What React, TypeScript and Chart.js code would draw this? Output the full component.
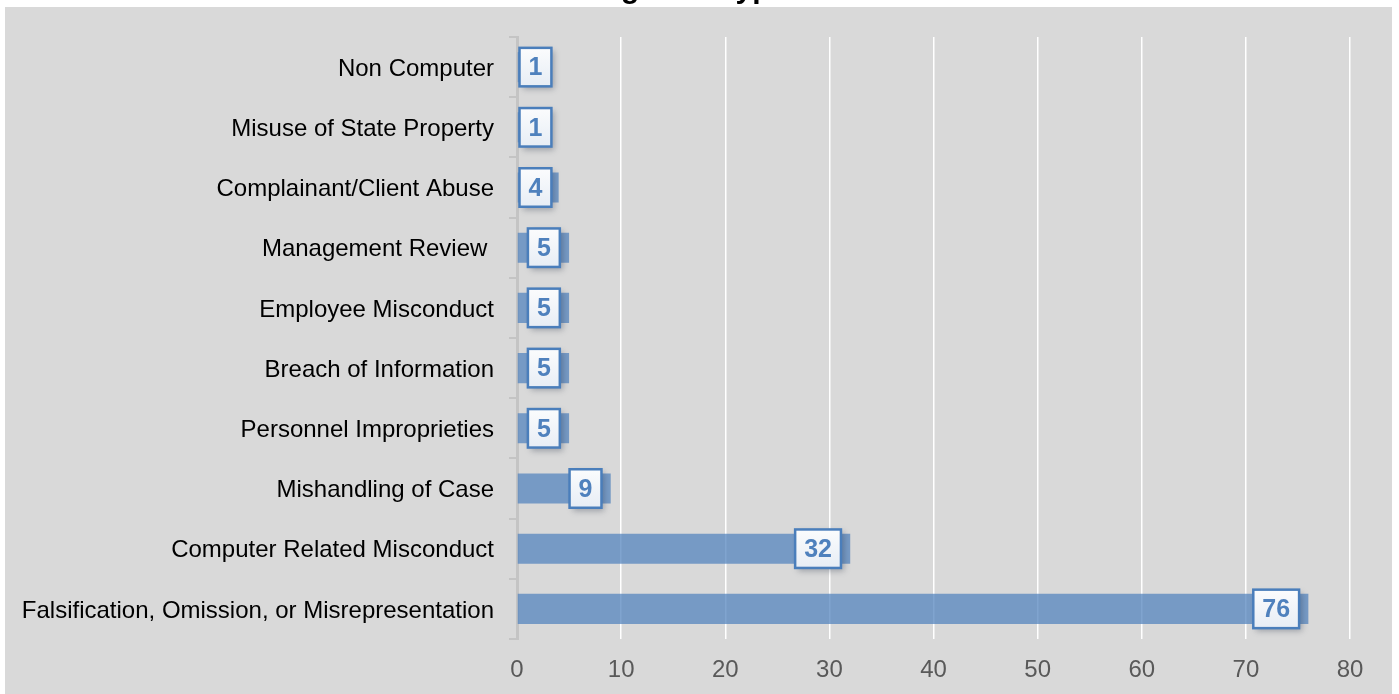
import React, { useEffect, useRef } from 'react';
import { Chart, registerables } from 'chart.js';

Chart.register(...registerables);

const titleText = 'Allegation Types';

const categories = [
  'Non Computer',
  'Misuse of State Property',
  'Complainant/Client Abuse',
  'Management Review ',
  'Employee Misconduct',
  'Breach of Information',
  'Personnel Improprieties',
  'Mishandling of Case',
  'Computer Related Misconduct',
  'Falsification, Omission, or Misrepresentation',
];

const counts = [1, 1, 4, 5, 5, 5, 5, 9, 32, 76];

const xMin = 0;
const xMax = 80;
const xStep = 10;

const FONT = "'Liberation Sans', Arial, sans-serif";

const boxLabelPlugin = {
  id: 'boxLabels',
  afterDatasetsDraw(chart: any) {
    const { ctx, chartArea } = chart;
    const meta = chart.getDatasetMeta(0);
    const data = chart.data.datasets[0].data;
    ctx.save();
    ctx.font = `bold 25px ${FONT}`;
    meta.data.forEach((bar: any, i: number) => {
      const text = String(data[i]);
      const tw = ctx.measureText(text).width;
      const w = tw + 18;
      const h = 38.5;
      let left = bar.x - 9.25 - w;
      if (left < chartArea.left + 2.5) left = chartArea.left + 2.5;
      const top = bar.y - h / 2;
      ctx.save();
      ctx.shadowColor = 'rgba(40,50,70,0.35)';
      ctx.shadowBlur = 6;
      ctx.shadowOffsetX = 3;
      ctx.shadowOffsetY = 3;
      const g = ctx.createLinearGradient(0, top, 0, top + h);
      g.addColorStop(0, '#fbfcfd');
      g.addColorStop(1, '#e7edf5');
      ctx.fillStyle = g;
      ctx.fillRect(left, top, w, h);
      ctx.restore();
      ctx.strokeStyle = '#4a7ebb';
      ctx.lineWidth = 2.5;
      ctx.strokeRect(left, top, w, h);
      ctx.fillStyle = '#4f81bd';
      ctx.textAlign = 'center';
      ctx.textBaseline = 'middle';
      ctx.fillText(text, left + w / 2, bar.y + 1.5);
    });
    ctx.restore();
  },
};

export default function App() {
  const ref = useRef<HTMLCanvasElement>(null);

  useEffect(() => {
    if (!ref.current) return;
    const chart = new Chart(ref.current, {
      type: 'bar',
      data: {
        labels: categories,
        datasets: [
          {
            data: counts,
            backgroundColor: 'rgba(79,129,189,0.72)',
            borderWidth: 0,
            barPercentage: 0.5,
            categoryPercentage: 1,
          },
        ],
      },
      options: {
        indexAxis: 'y',
        animation: false,
        responsive: true,
        maintainAspectRatio: false,
        layout: { padding: { top: 30, right: 42, left: 0, bottom: 0 } },
        plugins: {
          legend: { display: false },
          title: { display: false },
          tooltip: { enabled: false },
        },
        scales: {
          y: {
            type: 'category',
            afterFit: (s: any) => {
              s.width = 512;
            },
            ticks: {
              color: '#000000',
              font: { family: FONT, size: 24 },
              padding: 15,
              labelOffset: 2,
              autoSkip: false,
            },
            grid: {
              drawOnChartArea: false,
              drawTicks: true,
              tickLength: 8,
              color: '#c4c4c4',
              lineWidth: 2,
            },
            border: { display: true, color: '#c4c4c4', width: 3 },
          },
          x: {
            min: xMin,
            max: xMax,
            afterFit: (s: any) => {
              s.height = 55;
            },
            ticks: {
              stepSize: xStep,
              color: '#595959',
              font: { family: FONT, size: 24 },
              padding: 17,
            },
            grid: {
              drawTicks: false,
              color: (c: any) => (c.tick && c.tick.value === 0 ? 'rgba(0,0,0,0)' : '#ffffff'),
              lineWidth: 1.5,
            },
            border: { display: false },
          },
        },
      } as any,
      plugins: [boxLabelPlugin],
    });
    return () => chart.destroy();
  }, []);

  return (
    <>
      <div
        style={{
          position: 'fixed',
          left: 0,
          top: -27,
          width: 1370,
          textAlign: 'center',
          font: `bold 30px ${FONT}`,
          lineHeight: '30px',
          color: '#000',
          whiteSpace: 'nowrap',
        }}
      >
        {titleText}
      </div>
      <div
        style={{
          position: 'fixed',
          left: 5,
          top: 7,
          width: 1387,
          height: 687,
          background: '#d9d9d9',
        }}
      >
        <canvas ref={ref} />
      </div>
    </>
  );
}
